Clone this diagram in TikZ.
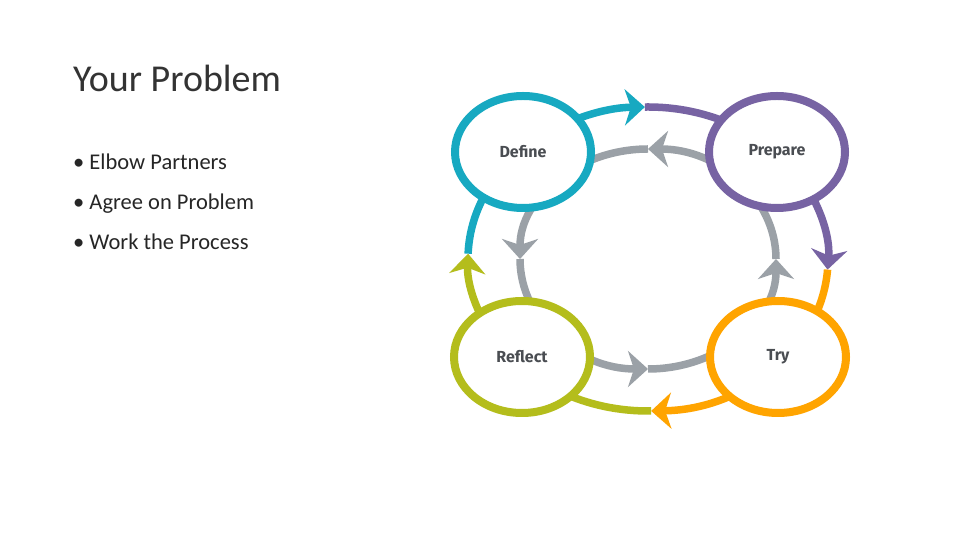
\documentclass[tikz,border=0pt]{standalone}
\usepackage{fontspec}
\setmainfont{Carlito}
\newfontfamily\labfont{Fira Sans}
\usetikzlibrary{shapes.geometric,arrows.meta}
\definecolor{cteal}{HTML}{17A9C1}
\definecolor{cpurple}{HTML}{7763A3}
\definecolor{corange}{HTML}{FFA400}
\definecolor{cgreen}{HTML}{B4BD1C}
\definecolor{cgray}{HTML}{9BA1A7}
\definecolor{ctext}{HTML}{4A4D52}
\begin{document}
\begin{tikzpicture}[x=1pt,y=1pt,
  ring/.style={ellipse,draw,line width=8pt,fill=white,minimum width=136pt,minimum height=112pt,inner sep=0pt,font=\labfont\bfseries\fontsize{16}{18}\selectfont,text=ctext},
  seg/.style={line width=7.5pt},
  tip/.style={-{Stealth[length=20pt,width=36pt,inset=6pt]}}]
\useasboundingbox (0,0) rectangle (960,540);
\fill[white] (0,0) rectangle (960,540);
\node[anchor=base west,inner sep=0,font=\fontsize{38}{40}\selectfont,text=black!80] (title) at (73,448) {Your Problem};
\node[anchor=base west,inner sep=0,font=\fontsize{22.5}{26}\selectfont,text=black!85] (b1) at (73,370) {\textbullet\ Elbow Partners};
\node[anchor=base west,inner sep=0,font=\fontsize{22.5}{26}\selectfont,text=black!85] (b2) at (73,330) {\textbullet\ Agree on Problem};
\node[anchor=base west,inner sep=0,font=\fontsize{22.5}{26}\selectfont,text=black!85] (b3) at (73,290) {\textbullet\ Work the Process};
\coordinate (c) at (648,281);
% outer loop
\draw[seg,cteal,tip] (c) ++(130:180 and 152) arc[start angle=130,end angle=91,x radius=180,y radius=152];
\draw[seg,cpurple,tip] (c) ++(91:180 and 152) arc[start angle=91,end angle=-4,x radius=180,y radius=152];
\draw[seg,corange,tip] (c) ++(-4:180 and 152) arc[start angle=-4,end angle=-89,x radius=180,y radius=152];
\draw[seg,cgreen,tip] (c) ++(-89:180 and 152) arc[start angle=-89,end angle=-182,x radius=180,y radius=152];
\draw[seg,cteal] (c) ++(-182:180 and 152) arc[start angle=-182,end angle=-225,x radius=180,y radius=152];
% inner loop
\foreach \a in {0,90,180,270}{
  \draw[seg,cgray,tip] (c) ++(\a:128 and 110) arc[start angle=\a,end angle=\a+90,x radius=128,y radius=110];
}
\node[ring,draw=cteal] (define) at (523,388) {Define};
\node[ring,draw=cpurple] (prepare) at (777,388) {Prepare};
\node[ring,draw=cgreen] (reflect) at (522,183) {Reflect};
\node[ring,draw=corange] (try) at (778,183) {Try};
\end{tikzpicture}
\end{document}
